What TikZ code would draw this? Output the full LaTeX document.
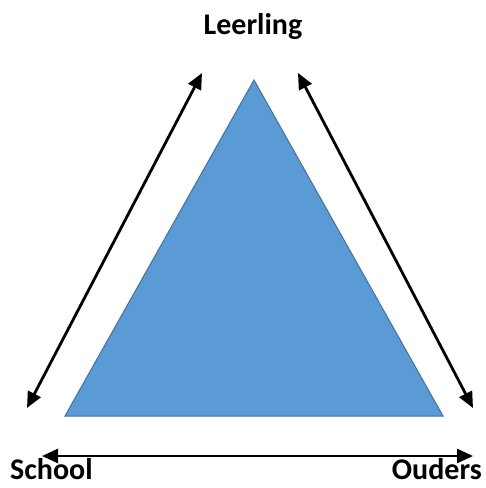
\documentclass[tikz,border=0pt]{standalone}
\usepackage{fontspec}
\setmainfont{Carlito}
\usetikzlibrary{arrows.meta}
\definecolor{driehoek}{HTML}{5B9BD5}
\definecolor{rand}{HTML}{41719C}

\begin{document}
\begin{tikzpicture}[x=1pt, y=-1pt,
      pijl/.style={draw, line width=2.8pt, {Triangle[length=16pt,width=14pt]}-{Triangle[length=16pt,width=14pt]}},
      label/.style={font=\fontsize{30}{36}\selectfont\bfseries, inner sep=0pt}]
    \useasboundingbox (0,0) rectangle (486,488);
    % driehoek
    \coordinate (top) at (254,80);
    \coordinate (links) at (65,416);
    \coordinate (rechts) at (443,416);
    \draw[fill=driehoek, draw=rand, line width=1pt] (top) -- (links) -- (rechts) -- cycle;
    % labels
    \node[label] (leerling) at (253,27) {Leerling};
    \node[label, anchor=west] (school) at (10,469) {School};
    \node[label, anchor=east] (ouders) at (482,469) {Ouders};
    % pijlen
    \coordinate (a1) at (202,73);
    \coordinate (a2) at (27,408);
    \coordinate (b1) at (298,73);
    \coordinate (b2) at (473,408);
    \coordinate (c1) at (42,456);
    \coordinate (c2) at (473,456);
    \draw[pijl] (a1) -- (a2);
    \draw[pijl] (b1) -- (b2);
    \draw[pijl] (c1) -- (c2);
\end{tikzpicture}
\end{document}
